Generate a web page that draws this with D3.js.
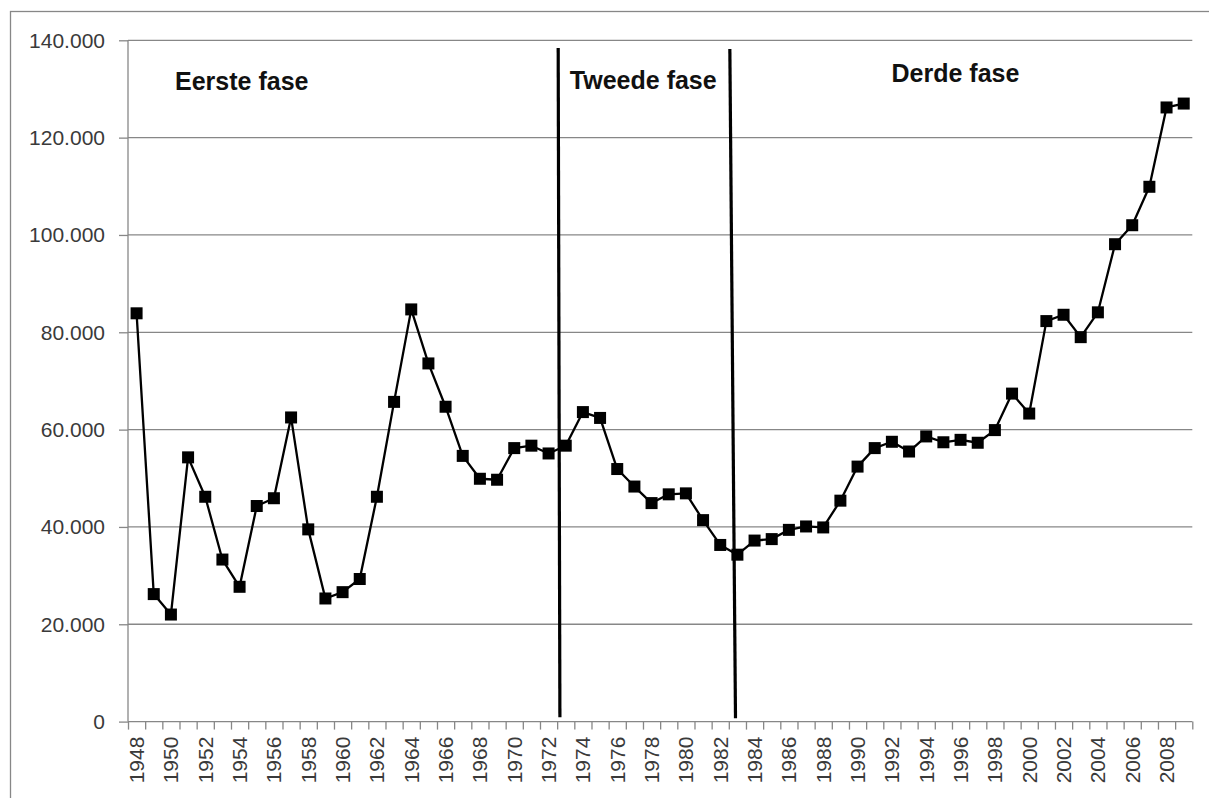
<!DOCTYPE html>
<html>
<head>
<meta charset="utf-8">
<script src="https://cdn.jsdelivr.net/npm/d3@7"></script>
<style>
  body { margin: 0; background: #fff; }
  svg { display: block; }
  .axis text { font-family: "Liberation Sans", Arial, sans-serif; font-size: 21px; fill: #3a3a3a; }
  .axis path, .axis line { stroke: #878787; stroke-width: 1.3; }
  .grid line { stroke: #878787; stroke-width: 1.3; }
  .phase-label { font-family: "Liberation Sans", Arial, sans-serif; font-size: 25px; font-weight: bold; fill: #111; }
</style>
</head>
<body>
<div class="chart"></div>
<script>
var years = d3.range(1948, 2010);
var values = [
  83900, 26200, 22000, 54300, 46200, 33300, 27700, 44300, 45900, 62500,
  39500, 25300, 26600, 29300, 46200, 65700, 84700, 73600, 64700, 54600,
  49900, 49700, 56200, 56700, 55100, 56700, 63600, 62400, 51900, 48300,
  44900, 46700, 46900, 41400, 36300, 34300, 37200, 37500, 39400, 40100,
  39900, 45400, 52400, 56200, 57500, 55500, 58600, 57400, 57900, 57300,
  59900, 67400, 63300, 82300, 83600, 79000, 84100, 98100, 102000, 109900,
  126200, 127000
];
var yTicks = [0, 20000, 40000, 60000, 80000, 100000, 120000, 140000];
var xLabelYears = years.filter(function(d) { return d % 2 === 0; });

// fasegrenzen (jaar boven/onder, waarde boven/onder)
var phaseLines = [
  { x0: 1972.56, v0: 138400, x1: 1972.66, v1: 900 },
  { x0: 1982.56, v0: 138200, x1: 1982.89, v1: 700 }
];
var phaseNames = ["Eerste fase", "Tweede fase", "Derde fase"];
var phaseX = [1950.24, 1973.24, 1991.98];
var phaseV = [129800, 130000, 131400];

var W = 1209, H = 798;
var margin = { top: 40.3, left: 128, right: W - 1192.3, bottom: H - 721.6 };
var width = W - margin.left - margin.right,
    height = H - margin.top - margin.bottom;

var svg = d3.select(".chart").append("svg")
  .attr("width", W)
  .attr("height", H);

// buitenrand
svg.append("rect")
  .attr("x", 10.5).attr("y", 11.5)
  .attr("width", 1300).attr("height", 900)
  .attr("fill", "none")
  .attr("stroke", "#878787")
  .attr("stroke-width", 1.3);

var chart = svg.append("g")
  .attr("transform", "translate(" + margin.left + "," + margin.top + ")");

var xc = d3.scaleLinear()
  .domain([1947.5, 2009.5])
  .range([0, width]);

var yc = d3.scaleLinear()
  .domain([0, 140000])
  .range([height, 0]);

// gridlijnen
chart.append("g")
  .attr("class", "grid")
  .selectAll("line")
  .data(yTicks.slice(1))
  .enter().append("line")
  .attr("x1", 0)
  .attr("x2", width)
  .attr("y1", function(d) { return yc(d); })
  .attr("y2", function(d) { return yc(d); });

var fmt = function(d) { return d === 0 ? "0" : d3.format(",")(d).replace(/,/g, "."); };

var yAxis = chart.append("g")
  .attr("class", "y axis")
  .call(d3.axisLeft(yc).tickValues(yTicks).tickSize(9).tickPadding(14).tickFormat(fmt));
yAxis.select(".domain").attr("d", "M0," + height + "V0");

// x-as: streepjes op de grenzen, labels om de twee jaar
var xAxis = chart.append("g")
  .attr("class", "x axis")
  .attr("transform", "translate(0," + height + ")")
  .call(d3.axisBottom(xc)
    .tickValues(d3.range(1947.5, 2010, 1))
    .tickSize(8)
    .tickFormat(""));
xAxis.select(".domain").attr("d", "M0,0H" + width);

chart.append("g")
  .attr("class", "axis")
  .selectAll("text")
  .data(xLabelYears)
  .enter().append("text")
  .attr("transform", function(d) {
    return "translate(" + (xc(d) + 7.5) + "," + (height + 15) + ") rotate(-90)";
  })
  .attr("text-anchor", "end")
  .text(function(d) { return d; });

// lijn met markers
var line = d3.line()
  .x(function(d, i) { return xc(years[i]); })
  .y(function(d) { return yc(d); });

chart.append("path")
  .datum(values)
  .attr("fill", "none")
  .attr("stroke", "#000")
  .attr("stroke-width", 2.3)
  .attr("stroke-linejoin", "round")
  .attr("d", line);

chart.selectAll(".marker")
  .data(values)
  .enter().append("rect")
  .attr("class", "marker")
  .attr("x", function(d, i) { return xc(years[i]) - 6; })
  .attr("y", function(d) { return yc(d) - 6; })
  .attr("width", 12)
  .attr("height", 12)
  .attr("fill", "#000");

// fasegrenzen
chart.selectAll(".phase-line")
  .data(phaseLines)
  .enter().append("line")
  .attr("class", "phase-line")
  .attr("x1", function(d) { return xc(d.x0); })
  .attr("y1", function(d) { return yc(d.v0); })
  .attr("x2", function(d) { return xc(d.x1); })
  .attr("y2", function(d) { return yc(d.v1); })
  .attr("stroke", "#000")
  .attr("stroke-width", 3.2);

chart.selectAll(".phase-label")
  .data(phaseNames)
  .enter().append("text")
  .attr("class", "phase-label")
  .attr("x", function(d, i) { return xc(phaseX[i]); })
  .attr("y", function(d, i) { return yc(phaseV[i]); })
  .text(function(d) { return d; });
</script>
</body>
</html>
